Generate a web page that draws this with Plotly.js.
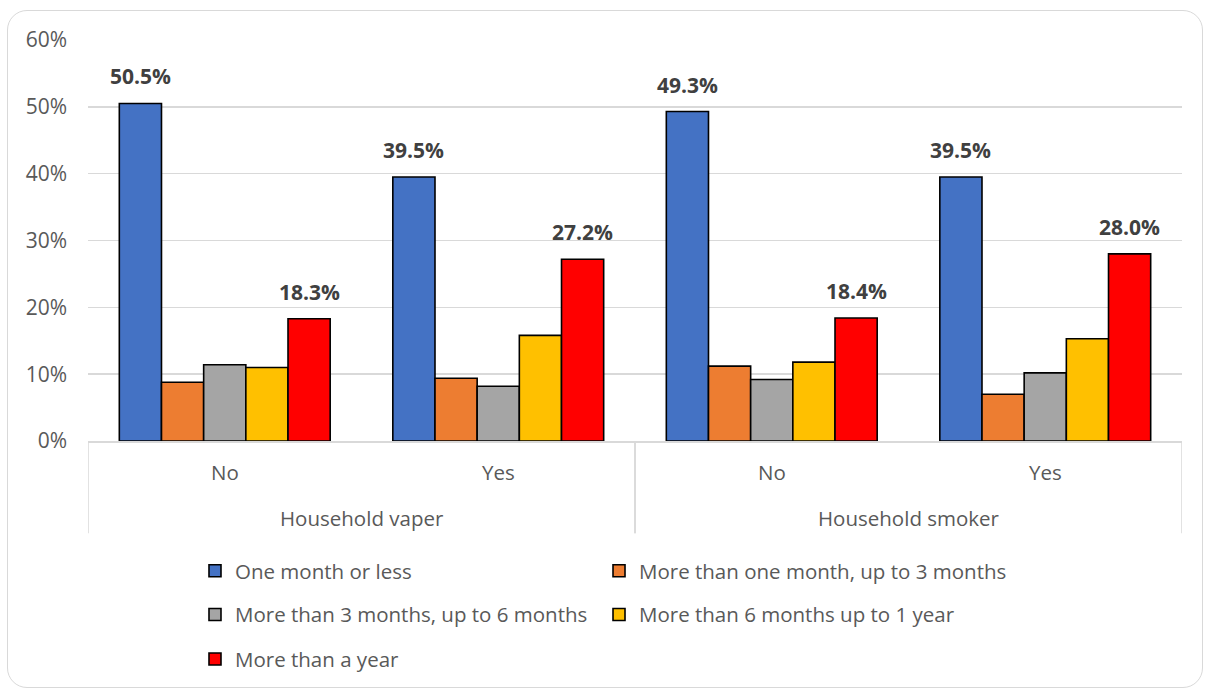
<!DOCTYPE html>
<html>
<head>
<meta charset="utf-8">
<script src="https://cdn.plot.ly/plotly-3.0.1.min.js"></script>
<style>
  html, body { margin: 0; padding: 0; background: #ffffff; }
  #wrap { position: relative; width: 1205px; height: 691px; overflow: hidden; }
  #frame {
    position: absolute; left: 7px; top: 10px; width: 1194px; height: 676px;
    border: 1.5px solid #d9d9d9; border-radius: 20px; pointer-events: none;
  }
  #chart { position: absolute; left: 0; top: 0; width: 1205px; height: 691px; }
</style>
</head>
<body>
<div id="wrap">
  <div id="frame"></div>
  <div id="chart"></div>
</div>
<script>
// Category levels for the two-row x axis
const groups  = ['Household vaper', 'Household vaper', 'Household smoker', 'Household smoker'];
const answers = ['No', 'Yes', 'No', 'Yes'];

// Time-since-last-use series (share of respondents)
const seriesNames = [
  'One month or less',
  'More than one month, up to 3 months',
  'More than 3 months, up to 6 months',
  'More than 6 months up to 1 year',
  'More than a year'
];
const oneMonthOrLess    = [0.505, 0.395, 0.493, 0.395];
const oneToThreeMonths  = [0.088, 0.094, 0.112, 0.070];
const threeToSixMonths  = [0.114, 0.082, 0.092, 0.102];
const sixToTwelveMonths = [0.110, 0.158, 0.118, 0.153];
const overAYear         = [0.183, 0.272, 0.184, 0.280];

const seriesValues = [oneMonthOrLess, oneToThreeMonths, threeToSixMonths, sixToTwelveMonths, overAYear];
const seriesColors = ['#4472C4', '#ED7D31', '#A5A5A5', '#FFC000', '#FF0000'];
// Which series get value labels
const labelledSeries = [0, 4];

const FONT = 'Open Sans, sans-serif';
const TEXT_GREY = '#595959';
const LINE_GREY = '#d9d9d9';

const BARGAP = 0.229;
const nSeries = seriesValues.length;
const nCats = answers.length;
const barW = (1 - BARGAP) / nSeries;

// Plot-area height (px) used to place the two label rows below the axis
const PLOT_H = 404;
const px = d => -d / PLOT_H;

// Legend laid out as a two-column grid: one legend box per entry
const legendIds = ['legend', 'legend2', 'legend3', 'legend4', 'legend5'];
const LEGEND_COLS = [0.0978, 0.4671];
const LEGEND_ROWS = [-0.324, -0.433, -0.544];

const traces = seriesValues.map((vals, k) => ({
  type: 'bar',
  name: seriesNames[k],
  x: answers.map((_, i) => i),
  y: vals,
  legend: legendIds[k],
  showlegend: true,
  marker: { color: seriesColors[k], line: { color: '#000000', width: 1.6 } },
  hoverinfo: 'skip'
}));

const annotations = [];

// Value labels above the labelled bars
labelledSeries.forEach(k => {
  const offset = (k - (nSeries - 1) / 2) * barW;
  seriesValues[k].forEach((v, i) => {
    annotations.push({
      xref: 'x', yref: 'y',
      x: i + offset,
      y: v,
      yanchor: 'bottom', xanchor: 'center',
      yshift: 11,
      showarrow: false,
      text: '<b>' + (v * 100).toFixed(1) + '%</b>',
      font: { family: FONT, size: 21, color: '#404040' }
    });
  });
});

// First label row: answer under each cluster
answers.forEach((a, i) => {
  annotations.push({
    xref: 'x', yref: 'paper', x: i, y: px(31),
    xanchor: 'center', yanchor: 'middle', showarrow: false,
    text: a, font: { family: FONT, size: 20.5, color: TEXT_GREY }
  });
});

// Second label row: group name centred under its clusters, plus dividers
const shapes = [];
const groupNames = [...new Set(groups)];
groupNames.forEach(g => {
  const idx = groups.map((v, i) => v === g ? i : -1).filter(i => i >= 0);
  const lo = Math.min(...idx), hi = Math.max(...idx);
  annotations.push({
    xref: 'x', yref: 'paper', x: (lo + hi) / 2, y: px(78),
    xanchor: 'center', yanchor: 'middle', showarrow: false,
    text: g, font: { family: FONT, size: 20.5, color: TEXT_GREY }
  });
  [lo - 0.5, hi + 0.5].forEach(xb => {
    shapes.push({
      type: 'line', xref: 'x', yref: 'paper',
      x0: xb, x1: xb, y0: 0, y1: px(93),
      line: { color: LINE_GREY, width: 1.5 }
    });
  });
});

const legendFont = { family: FONT, size: 20.5, color: TEXT_GREY };
function legendBox(k) {
  return {
    visible: true,
    orientation: 'h',
    x: LEGEND_COLS[k % 2], xanchor: 'left',
    y: LEGEND_ROWS[Math.floor(k / 2)], yanchor: 'middle',
    font: legendFont, bgcolor: 'rgba(0,0,0,0)',
    itemclick: false, itemdoubleclick: false
  };
}

const layout = {
  width: 1205, height: 691,
  margin: { l: 88, r: 23, t: 40, b: 247 },
  paper_bgcolor: 'rgba(0,0,0,0)',
  plot_bgcolor: 'rgba(0,0,0,0)',
  showlegend: true,
  barmode: 'group',
  bargap: BARGAP,
  bargroupgap: 0,
  font: { family: FONT, color: TEXT_GREY },
  xaxis: {
    type: 'linear', range: [-0.5, nCats - 0.5],
    showticklabels: false, ticks: '', showgrid: false, zeroline: false,
    showline: true, linecolor: LINE_GREY, linewidth: 1.5, fixedrange: true
  },
  yaxis: {
    range: [0, 0.6], dtick: 0.1, tickformat: '.0%',
    tickfont: { family: FONT, size: 21, color: TEXT_GREY },
    gridcolor: LINE_GREY, gridwidth: 1.5,
    zeroline: false, showline: false, ticks: '',
    ticklabelstandoff: 20, fixedrange: true
  },
  annotations: annotations,
  shapes: shapes
};
legendIds.forEach((id, k) => { layout[id] = legendBox(k); });

Plotly.newPlot('chart', traces, layout, { displayModeBar: false, staticPlot: true });
</script>
</body>
</html>
